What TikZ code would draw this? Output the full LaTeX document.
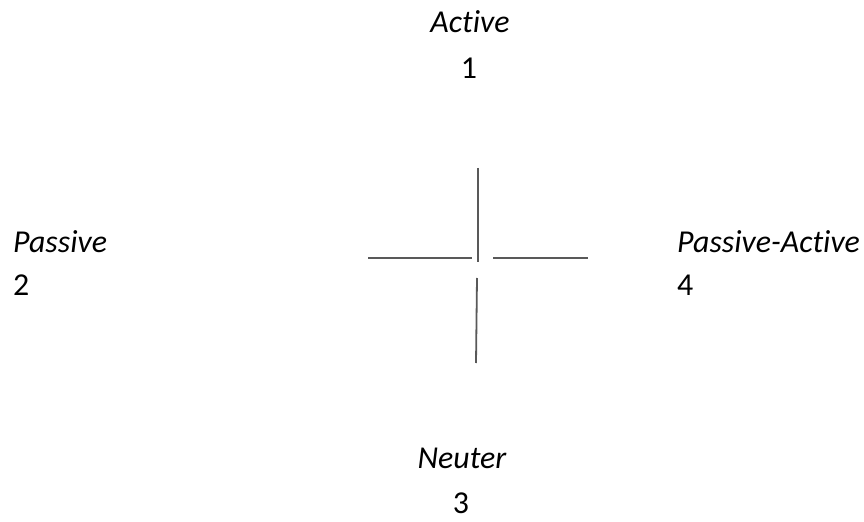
\documentclass[tikz,border=0pt]{standalone}
\usepackage{fontspec}
\setmainfont[Ligatures={NoCommon}]{Carlito}
\usepackage{tikz}
\tikzset{
    voice-label/.style = {inner sep=0pt, font=\fontsize{32}{36}\selectfont\itshape},
    voice-number/.style = {inner sep=0pt, font=\fontsize{32}{36}\selectfont},
    cross-line/.style = {draw=black!65, line width=1.8bp},
}

\begin{document}
\begin{tikzpicture}[x=1bp, y=-1bp]
\useasboundingbox (0,0) rectangle (864,522);
\node[voice-label, anchor=base] (active) at (470,33) {Active};
\node[voice-number, anchor=base] (one) at (469,79) {1};
\node[voice-label, anchor=base west] (passive) at (13,253) {Passive};
\node[voice-number, anchor=base west] (two) at (13,296) {2};
\node[voice-label, anchor=base west] (passact) at (677,253) {Passive-Active};
\node[voice-number, anchor=base west] (four) at (677,296) {4};
\node[voice-label, anchor=base] (neuter) at (462,468) {Neuter};
\node[voice-number, anchor=base] (three) at (461,513) {3};
% the cross
\draw[cross-line] (478,168) -- (478,262);
\draw[cross-line] (477,278) -- (476,363);
\draw[cross-line] (368,258) -- (472,258);
\draw[cross-line] (493,258) -- (588,258);
\end{tikzpicture}
\end{document}
